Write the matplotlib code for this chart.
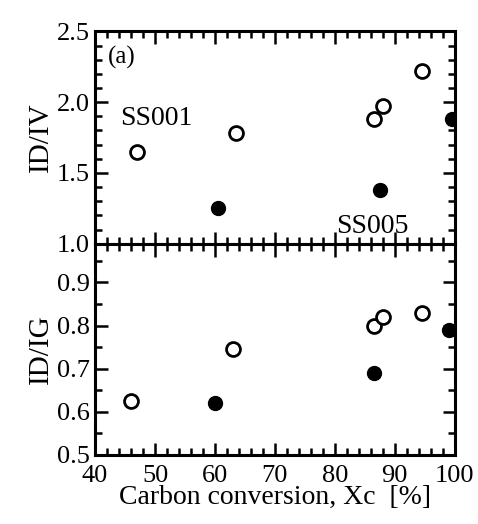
import matplotlib
matplotlib.use('Agg')
import matplotlib.pyplot as plt
from matplotlib.ticker import MultipleLocator, FormatStrFormatter

# carbon conversion, Xc [%]
open_x_iv = [47, 63.5, 86.5, 88, 94.5]
open_iv = [1.65, 1.78, 1.88, 1.97, 2.22]
filled_x_iv = [60.5, 87.5, 99.5]
filled_iv = [1.25, 1.38, 1.88]

open_x_ig = [46, 63, 86.5, 88, 94.5]
open_ig = [0.625, 0.745, 0.80, 0.82, 0.83]
filled_x_ig = [60, 86.5, 99]
filled_ig = [0.62, 0.69, 0.79]

plt.rcParams['font.family'] = ['Liberation Serif', 'DejaVu Serif']

fig = plt.figure(figsize=(4.78, 5.24), dpi=100)
ax1 = fig.add_axes([0.199, 0.535, 0.752, 0.405])
ax2 = fig.add_axes([0.199, 0.132, 0.752, 0.403])

for ax in (ax1, ax2):
    ax.tick_params(which='both', direction='in', top=True, right=True,
                   width=1.8, labelsize=19)
    ax.tick_params(which='major', length=9)
    ax.tick_params(which='minor', length=5)
    ax.tick_params(axis='y', pad=4)
    for sp in ax.spines.values():
        sp.set_linewidth(2.2)
    ax.set_xlim(40, 100)
    ax.xaxis.set_major_locator(MultipleLocator(10))
    ax.xaxis.set_minor_locator(MultipleLocator(2))

mk = dict(markersize=10, linestyle='none')

ax1.plot(open_x_iv, open_iv, 'o', mfc='white', mec='black', mew=2, **mk)
ax1.plot(filled_x_iv, filled_iv, 'o', color='black', **mk)
ax1.set_ylim(1.0, 2.5)
ax1.yaxis.set_major_locator(MultipleLocator(0.5))
ax1.yaxis.set_minor_locator(MultipleLocator(0.1))
ax1.yaxis.set_major_formatter(FormatStrFormatter('%.1f'))
ax1.tick_params(labelbottom=False)
ax1.set_ylabel('ID/IV', fontsize=21, labelpad=2)
ax1.text(0.035, 0.93, '(a)', transform=ax1.transAxes, fontsize=18, va='top')
ax1.text(0.07, 0.56, 'SS001', transform=ax1.transAxes, fontsize=20)
ax1.text(0.67, 0.05, 'SS005', transform=ax1.transAxes, fontsize=20)

ax2.plot(open_x_ig, open_ig, 'o', mfc='white', mec='black', mew=2, **mk)
ax2.plot(filled_x_ig, filled_ig, 'o', color='black', **mk)
ax2.set_ylim(0.5, 0.99)
ax2.yaxis.set_major_locator(MultipleLocator(0.1))
ax2.yaxis.set_minor_locator(MultipleLocator(0.05))
ax2.yaxis.set_major_formatter(FormatStrFormatter('%.1f'))
ax2.tick_params(axis='x', pad=7)
ax2.set_ylabel('ID/IG', fontsize=21, labelpad=2)
ax2.set_xlabel('Carbon conversion, Xc  [%]', fontsize=20, labelpad=-1)

fig.savefig('out.png', dpi=100)
